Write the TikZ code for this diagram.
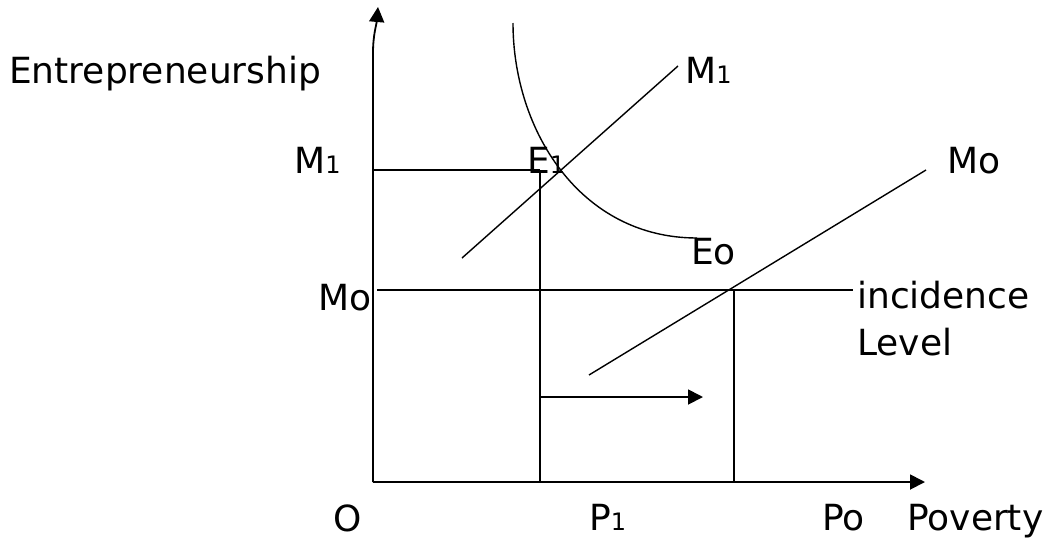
\documentclass[tikz,border=0pt]{standalone}
\usepackage{fontspec}
\setmainfont{DejaVu Sans}
\usetikzlibrary{arrows.meta}
\newcommand{\lowdig}[1]{{\fontsize{24}{24}\selectfont #1}}

\begin{document}
\begin{tikzpicture}[x=1pt,y=-1pt,>={Triangle[length=15pt,width=15pt]},
 lbl/.style={font=\fontsize{36}{40}\selectfont,inner sep=0pt,anchor=base west},
 ax/.style={line width=1.8pt},curve/.style={line width=1.4pt},guide/.style={line width=1.2pt}]
\useasboundingbox (0,0) rectangle (1054,539);
% points of the diagram
\coordinate (o) at (373,482);
\coordinate (ybend) at (373,53);
\coordinate (ytop) at (378,7);
\coordinate (xend) at (925,482);
\coordinate (m1y) at (373,170);
\coordinate (e1) at (540,170);
\coordinate (p1) at (540,482);
\coordinate (moy) at (377,290);
\coordinate (eo) at (734,290);
\coordinate (moend) at (853,290);
\coordinate (po) at (734,482);
\coordinate (sa) at (540,397);
\coordinate (sb) at (703,397);
\coordinate (m1a) at (462,258);
\coordinate (m1b) at (678,66);
\coordinate (moa) at (589,375);
\coordinate (mob) at (926,170);
\coordinate (ca) at (513,23);
\coordinate (cb) at (697,238);
% labels
\node[lbl] (ent) at (9,83) {Entrepreneurship};
\node[lbl] (m1l) at (294,173) {M\lowdig{1}};
\node[lbl] (mol) at (318,310) {Mo};
\node[lbl] (e1l) at (527,173) {E\lowdig{1}};
\node[lbl] (m1r) at (685,83) {M\lowdig{1}};
\node[lbl] (mor) at (947,173) {Mo};
\node[lbl] (eol) at (691,264) {Eo};
\node[lbl] (inc) at (857,308) {incidence};
\node[lbl] (lvl) at (857,355) {Level};
\node[lbl] (ol) at (333,531) {O};
\node[lbl] (p1l) at (589,530) {P\lowdig{1}};
\node[lbl] (pol) at (822,530) {Po};
\node[lbl] (pov) at (907,530) {Poverty};
% axes
\draw[ax,->] (o) -- (ybend) to[out=90,in=265] (ytop);
\draw[ax,->] (o) -- (xend);
% guides
\draw[guide] (m1y) -- (e1);
\draw[guide] (moy) -- (moend);
\draw[ax] (e1) -- (p1);
\draw[ax] (eo) -- (po);
\draw[ax,->] (sa) -- (sb);
% schedules
\draw[curve] (m1a) -- (m1b);
\draw[curve] (moa) -- (mob);
\draw[curve] (ca) .. controls (513,130) and (580,238) .. (cb);
\end{tikzpicture}
\end{document}
